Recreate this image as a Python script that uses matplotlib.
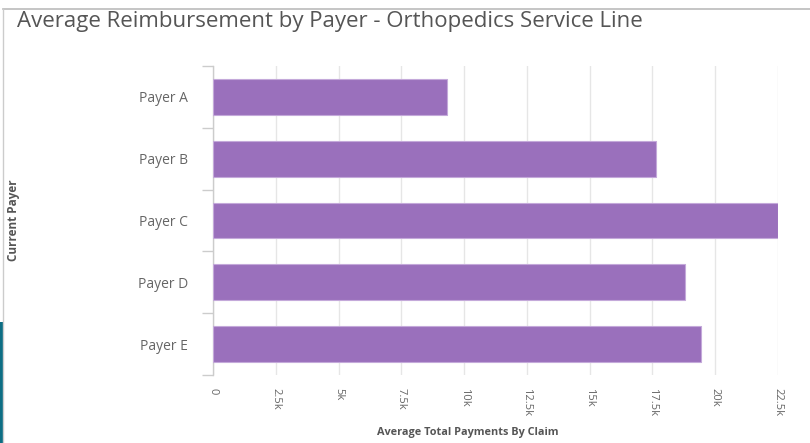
import matplotlib
matplotlib.use("Agg")
import matplotlib.pyplot as plt
from matplotlib.patches import Rectangle
from matplotlib.lines import Line2D
from matplotlib.ticker import FuncFormatter

# Datos
payers = ["Payer A", "Payer B", "Payer C", "Payer D", "Payer E"]
avg_payment = [9300, 17650, 22500, 18800, 19450]
x_ticks = [0, 2500, 5000, 7500, 10000, 12500, 15000, 17500, 20000, 22500]

C_BAR = "#9a70bc"
C_EDGE = "#c4a9da"
C_TEXT = "#666666"
C_GRID = "#e6e6e6"
C_AXIS = "#cccccc"

plt.rcParams["font.family"] = ["Open Sans", "DejaVu Sans"]

W, H = 810, 443
fig = plt.figure(figsize=(W / 100, H / 100), dpi=100)

# marco del panel
fig.add_artist(Line2D([3 / W, 1], [1 - 9 / H, 1 - 9 / H], color="#bbbbbb",
                      linewidth=1.2, transform=fig.transFigure))
fig.add_artist(Line2D([3 / W, 3 / W], [0, 1 - 9 / H], color="#cccccc",
                      linewidth=1.0, transform=fig.transFigure))
fig.add_artist(Rectangle((0, 0), 3 / W, (H - 322) / H, facecolor="#0d6e84",
                         edgecolor="none", transform=fig.transFigure))

fig.text(17 / W, 1 - 21 / H, "Average Reimbursement by Payer - Orthopedics Service Line",
         fontsize=16, color="#555555", ha="left", va="center")

ax = fig.add_axes([213 / W, 1 - 375 / H, 565 / W, 309 / H])
ypos = list(range(len(payers)))
ax.barh(ypos, avg_payment, height=0.58, color=C_BAR, edgecolor=C_EDGE,
        linewidth=0.8, zorder=3)

ax.set_xlim(0, 22500)
ax.set_ylim(len(payers) - 0.5, -0.5)
ax.set_xticks(x_ticks)
ax.xaxis.set_major_formatter(FuncFormatter(
    lambda v, p: "0" if v == 0 else (f"{v / 1000:g}k")))
ax.tick_params(axis="x", length=0, pad=9, labelsize=8, labelcolor=C_TEXT,
               labelrotation=-90)
for lbl in ax.get_xticklabels():
    lbl.set_va("top")
    lbl.set_ha("center")
ax.grid(axis="x", color=C_GRID, linewidth=1.0, zorder=0)

ax.set_yticks(ypos)
ax.set_yticklabels(payers)
ax.set_yticks([y - 0.5 for y in range(len(payers) + 1)], minor=True)
ax.tick_params(axis="y", which="major", length=0, pad=18, labelsize=10,
               labelcolor=C_TEXT)
ax.tick_params(axis="y", which="minor", length=8, color=C_AXIS, width=1.0)

for side in ["top", "right", "bottom"]:
    ax.spines[side].set_visible(False)
ax.spines["left"].set_color(C_AXIS)
ax.spines["left"].set_linewidth(1.0)

fig.text(468 / W, 1 - 432 / H, "Average Total Payments By Claim", fontsize=7.8,
         fontweight="bold", color="#555555", ha="center", va="center")
fig.text(14 / W, 1 - 220 / H, "Current Payer", fontsize=8.5, fontweight="bold",
         color="#555555", ha="center", va="center", rotation=90)

fig.savefig("out.png", dpi=100)
